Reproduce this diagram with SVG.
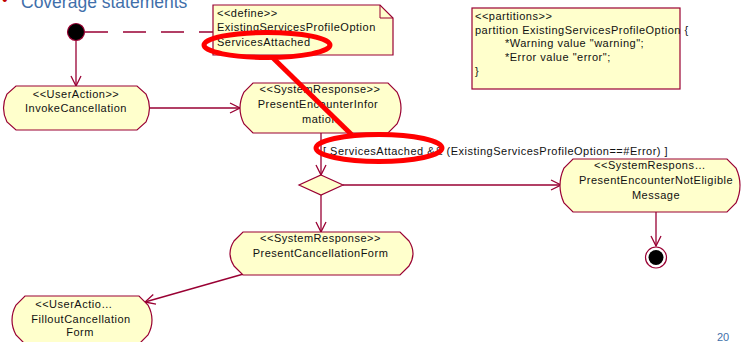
<svg xmlns="http://www.w3.org/2000/svg" width="753" height="342" viewBox="0 0 753 342">
  <style>
    .node { fill: #FFFFCC; stroke: #990033; stroke-width: 1.2; }
    .note { fill: #FFFFCC; stroke: #990033; stroke-width: 1.2; }
    .lbl { font-family: "Liberation Sans", Arial, sans-serif; font-size: 11px; letter-spacing: 0.5px; fill: #111; }
    .c { text-anchor: middle; }
    .edge { fill: none; stroke: #990033; stroke-width: 1.3; }
    .mark { fill: none; stroke: #FF0000; stroke-width: 5; }
    .title { font-family: "Liberation Sans", Arial, sans-serif; font-size: 17.5px; fill: #3F6FAA; }
  </style>
  <defs>
    <marker id="open" viewBox="0 0 12 12" refX="11" refY="6" markerWidth="12" markerHeight="12" markerUnits="userSpaceOnUse" orient="auto">
      <path d="M1,1 L11,6 L1,11" fill="none" stroke="#990033" stroke-width="1.3"/>
    </marker>
  </defs>

  <rect width="753" height="342" fill="#FFFFFF"/>

  <!-- slide heading, clipped at the top edge -->
  <text x="2" y="5" font-family="Liberation Sans, Arial, sans-serif" font-size="16" fill="#C00000">•</text>
  <text class="title" x="21" y="8">Coverage statements</text>
  <text x="717" y="341" font-family="Liberation Sans, Arial, sans-serif" font-size="11" fill="#3F6FAA">20</text>

  <!-- connectors -->
  <g id="connectors">
    <line class="edge" x1="85" y1="32" x2="213" y2="32" stroke-dasharray="23,15"/>
    <line class="edge" x1="76" y1="41" x2="76" y2="86" marker-end="url(#open)"/>
    <line class="edge" x1="150" y1="108" x2="240" y2="108" marker-end="url(#open)"/>
    <line class="edge" x1="321" y1="133" x2="321" y2="175" marker-end="url(#open)"/>
    <line class="edge" x1="343" y1="185" x2="561" y2="185" marker-end="url(#open)"/>
    <line class="edge" x1="321" y1="195" x2="321" y2="232" marker-end="url(#open)"/>
    <line class="edge" x1="656" y1="212" x2="656" y2="246" marker-end="url(#open)"/>
    <line class="edge" x1="247" y1="273" x2="145" y2="302" marker-end="url(#open)"/>
    <text class="lbl" x="323" y="155">[ ServicesAttached &amp;&amp; (ExistingServicesProfileOption==#Error) ]</text>
  </g>

  <!-- start -->
  <g id="start">
    <circle cx="76" cy="32" r="8.5" fill="#000" stroke="#990033" stroke-width="1.2"/>
  </g>

  <!-- define note -->
  <g id="note-define">
    <path class="note" d="M213,5 H380 L393,18 V55 H213 Z"/>
    <path d="M380,5 V18 H393" fill="none" stroke="#990033" stroke-width="1"/>
    <text class="lbl" x="217" y="17">&lt;&lt;define&gt;&gt;</text>
    <text class="lbl" x="217" y="31">ExistingServicesProfileOption</text>
    <text class="lbl" x="217" y="46">ServicesAttached</text>
  </g>

  <!-- partitions note -->
  <g id="note-partitions">
    <rect class="note" x="472" y="8" width="208" height="81"/>
    <text class="lbl" x="475" y="20">&lt;&lt;partitions&gt;&gt;</text>
    <text class="lbl" x="475" y="34">partition ExistingServicesProfileOption {</text>
    <text class="lbl" x="505" y="47">*Warning value "warning";</text>
    <text class="lbl" x="505" y="61">*Error value "error";</text>
    <text class="lbl" x="475" y="75">}</text>
  </g>

  <g id="invoke-cancellation">
    <path class="node" d="M16,86 H137 L146,94 Q153,108 146,122 L137,130 H16 L7,122 Q0,108 7,94 Z"/>
    <text class="lbl c" x="76" y="98">&lt;&lt;UserAction&gt;&gt;</text>
    <text class="lbl c" x="76" y="112">InvokeCancellation</text>
  </g>

  <g id="present-encounter-information">
    <path class="node" d="M253,83 H388 L397,92 Q405,108 397,124 L388,133 H253 L244,124 Q236,108 244,92 Z"/>
    <text class="lbl c" x="320" y="93">&lt;&lt;SystemResponse&gt;&gt;</text>
    <text class="lbl c" x="318" y="108">PresentEncounterInfor</text>
    <text class="lbl c" x="320" y="123">mation</text>
  </g>

  <g id="decision">
    <path class="node" d="M321,175 L343,185 L321,195 L299,185 Z"/>
  </g>

  <g id="present-not-eligible">
    <path class="node" d="M573,159 H727 L736,168 Q744,185.5 736,203 L727,212 H573 L564,203 Q556,185.5 564,168 Z"/>
    <text class="lbl c" x="650" y="169">&lt;&lt;SystemRespons…</text>
    <text class="lbl c" x="656" y="184">PresentEncounterNotEligible</text>
    <text class="lbl c" x="656" y="199">Message</text>
  </g>

  <g id="end">
    <circle cx="656" cy="257.5" r="10.5" fill="#FFFFFF" stroke="#990033" stroke-width="1.2"/>
    <circle cx="656" cy="257.5" r="7.5" fill="#000"/>
  </g>

  <g id="present-cancellation-form">
    <path class="node" d="M243,232 H400 L409,241 Q417,253.5 409,266 L400,275 H243 L234,266 Q226,253.5 234,241 Z"/>
    <text class="lbl c" x="320.5" y="242">&lt;&lt;SystemResponse&gt;&gt;</text>
    <text class="lbl c" x="320.5" y="257">PresentCancellationForm</text>
  </g>

  <g id="fillout-cancellation">
    <path class="node" d="M25,296 H139 L148,305 Q156,320 148,335 L139,344 H25 L16,335 Q8,320 16,305 Z"/>
    <text class="lbl c" x="74" y="308">&lt;&lt;UserActio…</text>
    <text class="lbl c" x="81" y="323">FilloutCancellation</text>
    <text class="lbl c" x="80" y="336">Form</text>
  </g>

  <!-- highlight marks -->
  <g id="highlight">
    <ellipse class="mark" cx="267" cy="45" rx="63" ry="12.5"/>
    <line class="mark" x1="272" y1="57" x2="352" y2="135"/>
    <ellipse class="mark" cx="379" cy="148" rx="63" ry="13.5"/>
  </g>
</svg>
